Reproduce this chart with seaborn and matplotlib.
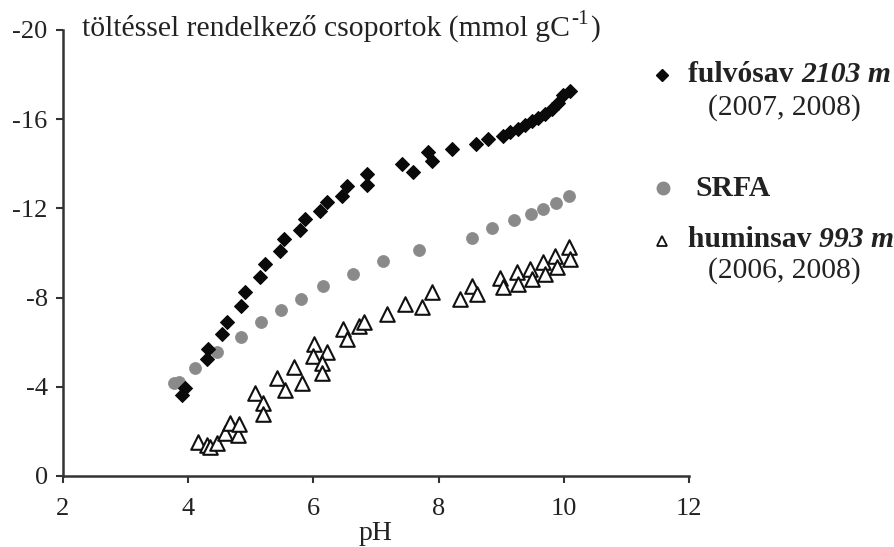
import matplotlib
matplotlib.use("Agg")
import matplotlib.pyplot as plt
from matplotlib.lines import Line2D
import seaborn as sns
import pandas as pd

# --- data -------------------------------------------------------------
fulvo_ph = [3.90, 3.95, 4.30, 4.32, 4.54, 4.62, 4.85, 4.91, 5.15, 5.23, 5.47, 5.53,
            5.79, 5.87, 6.11, 6.21, 6.45, 6.53, 6.86, 6.86, 7.41, 7.59, 7.83, 7.89,
            8.21, 8.60, 8.79, 9.03, 9.14, 9.27, 9.38, 9.49, 9.59, 9.70, 9.81, 9.91,
            9.99, 10.10]
fulvo_q = [-3.65, -3.96, -5.23, -5.68, -6.35, -6.89, -7.61, -8.24, -8.92, -9.50,
           -10.09, -10.63, -11.04, -11.53, -11.89, -12.30, -12.57, -13.02, -13.06,
           -13.56, -14.00, -13.65, -14.55, -14.14, -14.68, -14.91, -15.09, -15.23,
           -15.41, -15.54, -15.72, -15.90, -16.04, -16.22, -16.44, -16.71, -17.07,
           -17.25]

srfa_ph = [3.78, 3.85, 4.11, 4.46, 4.84, 5.16, 5.48, 5.80, 6.15, 6.63, 7.11, 7.69,
           8.53, 8.85, 9.20, 9.48, 9.67, 9.88, 10.08]
srfa_q = [-4.15, -4.20, -4.86, -5.54, -6.22, -6.89, -7.43, -7.93, -8.51, -9.05,
          -9.64, -10.14, -10.68, -11.13, -11.49, -11.76, -11.98, -12.25, -12.57]

humin_ph = [4.16, 4.30, 4.35, 4.46, 4.59, 4.67, 4.80, 4.81, 5.07, 5.19, 5.19, 5.42,
            5.55, 5.69, 5.82, 6.01, 6.00, 6.22, 6.14, 6.14, 6.47, 6.54, 6.73, 6.81,
            7.18, 7.46, 7.73, 7.89, 8.34, 8.53, 8.61, 8.98, 9.03, 9.25, 9.27, 9.46,
            9.49, 9.67, 9.70, 9.86, 9.89, 10.08, 10.10]
humin_q = [-1.53, -1.40, -1.31, -1.49, -1.94, -2.39, -1.85, -2.34, -3.74, -3.29,
           -2.79, -4.41, -3.87, -4.91, -4.19, -5.90, -5.36, -5.54, -5.05, -4.64,
           -6.58, -6.13, -6.71, -6.89, -7.25, -7.70, -7.57, -8.24, -7.93, -8.51,
           -8.15, -8.87, -8.47, -9.14, -8.60, -9.28, -8.83, -9.59, -9.05, -9.86,
           -9.37, -10.27, -9.73]

x_ticks = [2, 4, 6, 8, 10, 12]
y_ticks = [0, -4, -8, -12, -16, -20]

y_title_main = "töltéssel rendelkező csoportok (mmol gC"
y_title_sup = "-1"
y_title_end = ")"
x_title = "pH"

# --- style ------------------------------------------------------------
sns.set_style("ticks")
plt.rcParams["font.family"] = ["Liberation Serif", "DejaVu Serif"]

TXT = "#222222"
SP = "#333333"

fig = plt.figure(figsize=(8.94, 5.47), dpi=100)
ax = fig.add_axes([63 / 894, 1 - 476 / 547, (689 - 63) / 894, (476 - 30) / 547])

df_f = pd.DataFrame({"pH": fulvo_ph, "q": fulvo_q})
df_s = pd.DataFrame({"pH": srfa_ph, "q": srfa_q})
df_h = pd.DataFrame({"pH": humin_ph, "q": humin_q})

sns.scatterplot(data=df_s, x="pH", y="q", ax=ax, marker="o", s=75,
                color="#8a8a8a", edgecolor="#8a8a8a", linewidth=0.5, zorder=2)
sns.scatterplot(data=df_h, x="pH", y="q", ax=ax, marker="^", s=110,
                facecolor="white", edgecolor="#111111", linewidth=1.5, zorder=3)
sns.scatterplot(data=df_f, x="pH", y="q", ax=ax, marker="D", s=50,
                color="#0a0a0a", edgecolor="#0a0a0a", linewidth=0.8, zorder=4)

ax.set_xlim(2, 12)
ax.set_ylim(0, -20)
ax.set_xticks(x_ticks)
ax.set_yticks(y_ticks)
ax.set_xticklabels([str(v) for v in x_ticks])
ax.set_yticklabels([str(v) for v in y_ticks])
ax.set_xlabel("")
ax.set_ylabel("")
for side in ("top", "right"):
    ax.spines[side].set_visible(False)
for side in ("left", "bottom"):
    ax.spines[side].set_color(SP)
    ax.spines[side].set_linewidth(1.8)
ax.tick_params(axis="both", direction="out", length=5, width=1.5, color=SP,
               labelsize=19, labelcolor=TXT)
ax.tick_params(axis="x", pad=11)
ax.tick_params(axis="y", pad=6)

FS = 21.3
BASE = 1 - 36 / 547

# axis titles
tt = fig.text(82 / 894, BASE, y_title_main, fontsize=FS, color=TXT,
              ha="left", va="baseline")
ts = ax.annotate(y_title_sup, xy=(1, BASE), xycoords=(tt, "figure fraction"),
                 xytext=(1, 9), textcoords="offset points", va="baseline", ha="left",
                 fontsize=FS * 0.72, color=TXT, annotation_clip=False)
ax.annotate(y_title_end, xy=(1, BASE), xycoords=(ts, "figure fraction"),
            xytext=(1, 0), textcoords="offset points", va="baseline", ha="left",
            fontsize=FS, color=TXT, annotation_clip=False)
fig.text(376 / 894, 1 - 533 / 547, x_title, fontsize=20, color=TXT,
         ha="center", va="center")

# legend (manual)
def leg_marker(xp, yp, **kw):
    fig.add_artist(Line2D([xp / 894], [1 - yp / 547], transform=fig.transFigure,
                          linestyle="none", **kw))

leg_marker(662, 75, marker="D", markersize=6.5, color="#0a0a0a")
leg_marker(663, 188, marker="o", markersize=9, color="#8a8a8a")
leg_marker(662, 241, marker="^", markersize=7.5, markerfacecolor="white",
           markeredgecolor="#111111", markeredgewidth=1.3)

t1 = fig.text(688 / 894, 1 - 75 / 547, "fulvósav ", fontsize=FS, fontweight="bold",
              color=TXT, ha="left", va="center")
ax.annotate("2103 m", xy=(1, 0), xycoords=t1, va="bottom", ha="left",
            fontsize=FS, fontweight="bold", fontstyle="italic", color=TXT,
            annotation_clip=False)
fig.text(784 / 894, 1 - 108 / 547, "(2007, 2008)", fontsize=FS, color=TXT,
         ha="center", va="center")
fig.text(695 / 894, 1 - 189 / 547, "SRFA", fontsize=FS, fontweight="bold",
         color=TXT, ha="left", va="center")
t3 = fig.text(688 / 894, 1 - 240 / 547, "huminsav ", fontsize=FS, fontweight="bold",
              color=TXT, ha="left", va="center")
ax.annotate("993 m", xy=(1, 0), xycoords=t3, va="bottom", ha="left",
            fontsize=FS, fontweight="bold", fontstyle="italic", color=TXT,
            annotation_clip=False)
fig.text(784 / 894, 1 - 271 / 547, "(2006, 2008)", fontsize=FS, color=TXT,
         ha="center", va="center")

fig.savefig("out.png", dpi=100)
